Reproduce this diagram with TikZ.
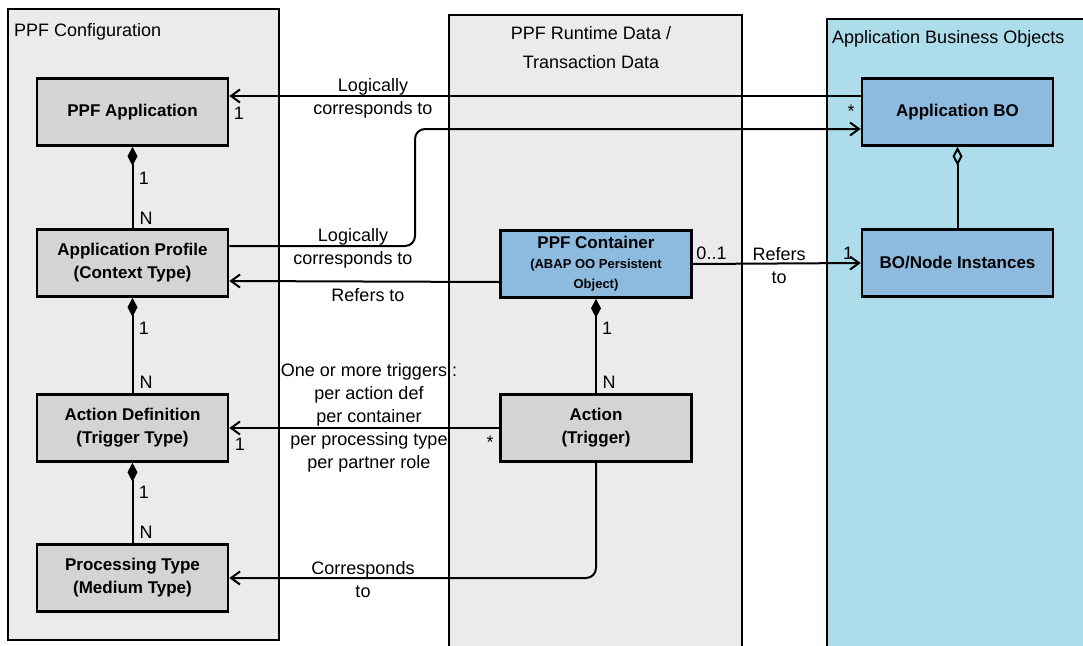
\documentclass[tikz,border=0pt]{standalone}
\usepackage{fontspec}
\setmainfont{Liberation Sans}
\usetikzlibrary{arrows.meta}
\definecolor{panelgray}{HTML}{EBEBEB}
\definecolor{boxgray}{HTML}{D4D4D4}
\definecolor{boxblue}{HTML}{8DBBE0}
\definecolor{panelblue}{HTML}{ADDCEA}
\begin{document}
\begin{tikzpicture}[x=1pt,y=-1pt,
  lbl/.style={font=\fontsize{18}{23}\selectfont, inner sep=0pt, text height=13pt, text depth=4pt, align=center},
  box/.style={draw, line width=2.6pt, minimum width=191pt, minimum height=67pt, inner sep=0pt, align=center, font=\bfseries\fontsize{17}{23}\selectfont},
  graybox/.style={box, fill=boxgray},
  bluebox/.style={box, fill=boxblue},
  conn/.style={line width=2pt, -{Straight Barb[length=9pt,width=13pt,line width=2pt]}},
  comp/.style={line width=2pt, {Diamond[length=19pt,width=10pt]}-},
  aggr/.style={line width=2pt, {Diamond[open,length=19pt,width=10pt,fill=panelblue]}-},
  panel/.style={line width=2.2pt}
]
\useasboundingbox (0,0) rectangle (1083,645);
\fill[white] (0,0) rectangle (1083,645);

% panels
\draw[panel, fill=panelgray] (8,9) rectangle (279,640);
\fill[panelgray] (449,15) rectangle (742,650);
\draw[panel] (449,650) -- (449,15) -- (742,15) -- (742,650);
\fill[panelblue] (827,19) rectangle (1090,650);
\draw[panel] (827,650) -- (827,19) -- (1090,19);

\node[lbl, anchor=west] (t1) at (14,31.5) {PPF Configuration};
\node[lbl, font=\fontsize{18}{29}\selectfont] (t2) at (591,63.5) {PPF Runtime Data /\\Transaction Data};
\node[lbl, anchor=west] (t3) at (832,38.5) {Application Business Objects};

% boxes
\node[graybox] (ppfapp) at (132.5,112) {PPF Application};
\node[graybox] (appprof) at (132.5,263) {Application Profile\\(Context Type)};
\node[graybox] (actdef) at (132.5,428) {Action Definition\\(Trigger Type)};
\node[graybox] (proctype) at (132.5,578) {Processing Type\\(Medium Type)};
\node[bluebox, font=\bfseries\fontsize{13}{20}\selectfont] (container) at (596,264)
  {{\fontsize{17}{20}\selectfont PPF Container}\\(ABAP OO Persistent\\Object)};
\node[graybox] (action) at (596,428) {Action\\(Trigger)};
\node[bluebox] (appbo) at (957.5,112) {Application BO};
\node[bluebox] (bonode) at (957.5,263) {BO/Node Instances};

% connectors
\draw[conn] ([yshift=16pt]appbo.west) -- ([yshift=16pt]ppfapp.east);
\draw[conn, rounded corners=10pt] ([yshift=17pt]appprof.east) -| (415,129) -- ([yshift=-17pt]appbo.west);
\draw[conn] ([yshift=-18pt]container.west) -- ([yshift=-18pt]appprof.east);
\draw[conn] (container.east) -- (bonode.west);
\draw[conn] (action.west) -- (actdef.east);
\draw[conn, rounded corners=10pt] (action.south) |- (proctype.east);

\draw[comp] (ppfapp.south) -- (appprof.north);
\draw[comp] (appprof.south) -- (actdef.north);
\draw[comp] (actdef.south) -- (proctype.north);
\draw[comp] (container.south) -- (action.north);
\draw[aggr] (appbo.south) -- (bonode.north);

% labels
\node[lbl] (l1) at (373,109.5) {Logically\\corresponds to};
\node[lbl] (l2) at (353,259.5) {Logically\\corresponds to};
\node[lbl] (l3) at (368,296.5) {Refers to};
\node[lbl] (l4) at (711.5,254.5) {0..1};
\node[lbl] (l5) at (779,278.5) {Refers\\to};
\node[lbl] (l6) at (848,254.5) {1};
\node[lbl] (l7) at (239,114.5) {1};
\node[lbl] (l8) at (851,113) {*};
\node[lbl] (m1) at (144,179.5) {1};
\node[lbl] (m2) at (146,219.5) {N};
\node[lbl] (m3) at (144,329.5) {1};
\node[lbl] (m4) at (146,383.5) {N};
\node[lbl] (m5) at (144,493.5) {1};
\node[lbl] (m6) at (146,533.5) {N};
\node[lbl] (m7) at (607,329.5) {1};
\node[lbl] (m8) at (609,383.5) {N};
\node[lbl] (l9) at (240,445.5) {1};
\node[lbl] (l10) at (490,444) {*};
\node[lbl] (l11) at (369,463.5) {One or more triggers :\\per action def\\per container\\per processing type\\per partner role};
\node[lbl] (l12) at (363,592.5) {Corresponds\\to};
\end{tikzpicture}
\end{document}
